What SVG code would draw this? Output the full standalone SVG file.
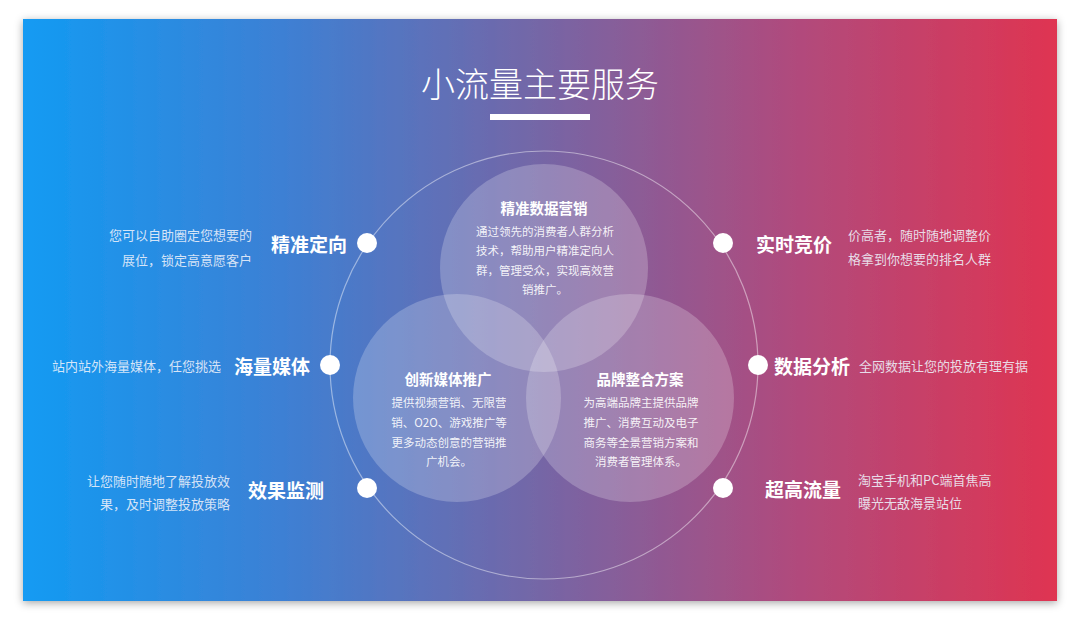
<svg xmlns="http://www.w3.org/2000/svg" width="1080" height="620" viewBox="0 0 1080 620">
<defs>
<linearGradient id="bg" x1="0" y1="0" x2="1" y2="0">
<stop offset="0" stop-color="#129bf3"/>
<stop offset="0.25" stop-color="#3d80d4"/>
<stop offset="0.5" stop-color="#7566a6"/>
<stop offset="0.75" stop-color="#b14a7c"/>
<stop offset="1" stop-color="#df3451"/>
</linearGradient>
<filter id="sh" x="-5%" y="-5%" width="110%" height="110%">
<feDropShadow dx="0" dy="2" stdDeviation="4" flood-color="#000" flood-opacity="0.35"/>
</filter>
<style>
text{font-family:"Noto Sans CJK SC","Noto Sans",sans-serif;fill:#fff;dominant-baseline:central}
.lab{font-size:19px;font-weight:700}
.desc{font-size:13px;fill:#eef2fb;fill-opacity:0.88}
.ct{font-size:14.5px;font-weight:700;text-anchor:middle}
.cb{font-size:11.5px;text-anchor:middle;fill-opacity:0.9}
.dot{fill:#fff}
.venn{fill:#fff;fill-opacity:0.22}
.end{text-anchor:end}
</style>
</defs>
<rect width="1080" height="620" fill="#ffffff"/>
<rect x="23" y="19" width="1034" height="582" fill="url(#bg)" filter="url(#sh)"/>
<g id="title">
<text x="540" y="82" style="font-size:34px;font-weight:300" text-anchor="middle">小流量主要服务</text>
<rect x="490" y="114" width="100" height="6" fill="#fff"/>
</g>
<g id="connectors">
<circle cx="544" cy="365" r="214" fill="none" stroke="#fff" stroke-opacity="0.45" stroke-width="1.2"/>
</g>
<g id="venn-top">
<circle class="venn" cx="544" cy="268" r="104"/>
<text class="ct" x="544" y="207">精准数据营销</text>
<text class="cb" x="545" y="231">通过领先的消费者人群分析</text>
<text class="cb" x="545" y="250">技术，帮助用户精准定向人</text>
<text class="cb" x="545" y="270">群，管理受众，实现高效营</text>
<text class="cb" x="545" y="289">销推广。</text>
</g>
<g id="venn-left">
<circle class="venn" cx="457" cy="398" r="104"/>
<text class="ct" x="448" y="378">创新媒体推广</text>
<text class="cb" x="449" y="402">提供视频营销、无限营</text>
<text class="cb" x="449" y="422">销、O2O、游戏推广等</text>
<text class="cb" x="449" y="442">更多动态创意的营销推</text>
<text class="cb" x="449" y="461">广机会。</text>
</g>
<g id="venn-right">
<circle class="venn" cx="630" cy="398" r="104"/>
<text class="ct" x="640" y="378">品牌整合方案</text>
<text class="cb" x="641" y="402">为高端品牌主提供品牌</text>
<text class="cb" x="641" y="422">推广、消费互动及电子</text>
<text class="cb" x="641" y="442">商务等全景营销方案和</text>
<text class="cb" x="641" y="461">消费者管理体系。</text>
</g>
<g id="node-jingzhun">
<circle class="dot" cx="367" cy="243" r="10"/>
<text class="lab end" x="347" y="243">精准定向</text>
<text class="desc end" x="252" y="234">您可以自助圈定您想要的</text>
<text class="desc end" x="252" y="259">展位，锁定高意愿客户</text>
</g>
<g id="node-hailiang">
<circle class="dot" cx="330" cy="365" r="10"/>
<text class="lab end" x="310" y="365">海量媒体</text>
<text class="desc end" x="221" y="365">站内站外海量媒体，任您挑选</text>
</g>
<g id="node-xiaoguo">
<circle class="dot" cx="367" cy="488" r="10"/>
<text class="lab end" x="324" y="489">效果监测</text>
<text class="desc end" x="230" y="480">让您随时随地了解投放效</text>
<text class="desc end" x="230" y="503">果，及时调整投放策略</text>
</g>
<g id="node-shishi">
<circle class="dot" cx="723" cy="243" r="10"/>
<text class="lab" x="756" y="243">实时竞价</text>
<text class="desc" x="848" y="234">价高者，随时随地调整价</text>
<text class="desc" x="848" y="258">格拿到你想要的排名人群</text>
</g>
<g id="node-shuju">
<circle class="dot" cx="758" cy="365" r="10"/>
<text class="lab" x="774" y="365">数据分析</text>
<text class="desc" x="859" y="365">全网数据让您的投放有理有据</text>
</g>
<g id="node-chaogao">
<circle class="dot" cx="723" cy="488" r="10"/>
<text class="lab" x="765" y="488">超高流量</text>
<text class="desc" x="858" y="479">淘宝手机和PC端首焦高</text>
<text class="desc" x="858" y="502">曝光无敌海景站位</text>
</g>
</svg>
